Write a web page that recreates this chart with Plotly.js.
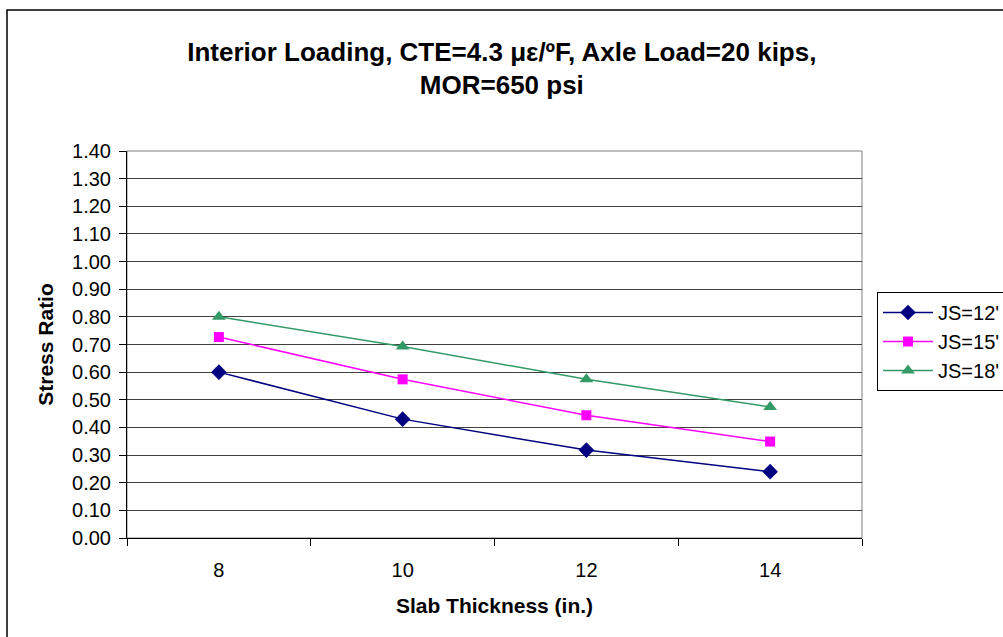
<!DOCTYPE html>
<html>
<head>
<meta charset="utf-8">
<script src="https://cdn.plot.ly/plotly-3.0.1.min.js"></script>
<style>html,body{margin:0;padding:0;background:#fff;}#chart{width:1003px;height:637px;}</style>
</head>
<body>
<div id="chart"></div>
<script>
const thickness = ["8", "10", "12", "14"];
const js12 = [0.60, 0.43, 0.318, 0.24];
const js15 = [0.727, 0.574, 0.444, 0.349];
const js18 = [0.80, 0.693, 0.574, 0.474];
const seriesNames = ["JS=12'", "JS=15'", "JS=18'"];

const font = "Liberation Sans, Arial, sans-serif";
const traces = [
  {x: thickness, y: js12, name: seriesNames[0], type: 'scatter', mode: 'lines+markers',
   line: {color: '#000080', width: 1.5}, marker: {symbol: 'diamond', size: 12, color: '#000080'}},
  {x: thickness, y: js15, name: seriesNames[1], type: 'scatter', mode: 'lines+markers',
   line: {color: '#FF00FF', width: 1.5}, marker: {symbol: 'square', size: 10, color: '#FF00FF'}},
  {x: thickness, y: js18, name: seriesNames[2], type: 'scatter', mode: 'lines+markers',
   line: {color: '#339966', width: 1.5}, marker: {symbol: 'triangle-up', size: 12, color: '#339966'}}
];

const L = 127, R = 862, T = 151, B = 538, W = 1003, H = 637;
const pw = R - L, ph = B - T;
const px = v => (v - L) / pw;
const py = v => (B - v) / ph;

const layout = {
  width: W, height: H,
  margin: {l: L, r: W - R, t: T, b: H - B, pad: 0, autoexpand: false},
  paper_bgcolor: '#fff', plot_bgcolor: '#fff',
  font: {family: font, size: 20, color: '#000'},
  title: {
    text: '<b>Interior Loading, CTE=4.3 με/ºF, Axle Load=20 kips,<br>MOR=650 psi</b>',
    font: {family: font, size: 26, color: '#000'},
    x: 0.51, xanchor: 'center', xref: 'paper', y: 0.905, yanchor: 'top'
  },
  xaxis: {
    type: 'category', range: [-0.5, 3.5], automargin: false,
    showgrid: false, zeroline: false,
    showline: true, linecolor: '#000', linewidth: 1,
    ticks: 'outside', tickson: 'boundaries', ticklen: 7, tickcolor: '#000', tickwidth: 1,
    ticklabelstandoff: 14,
    tickfont: {family: font, size: 20, color: '#000'},
    title: {text: '<b>Slab Thickness (in.)</b>', font: {family: font, size: 21, color: '#000'}, standoff: 18}
  },
  yaxis: {
    range: [0, 1.4], dtick: 0.1, tickformat: '.2f', automargin: false,
    showgrid: true, gridcolor: '#404040', gridwidth: 1, zeroline: false,
    showline: true, linecolor: '#000', linewidth: 1,
    ticks: 'outside', ticklen: 7, tickcolor: '#000',
    ticklabelstandoff: 4,
    tickfont: {family: font, size: 20, color: '#000'},
    title: {text: '<b>Stress Ratio</b>', font: {family: font, size: 21, color: '#000'}, standoff: 12}
  },
  showlegend: true,
  legend: {
    x: px(877), y: py(292), xanchor: 'left', yanchor: 'top',
    bordercolor: '#000', borderwidth: 1, bgcolor: '#fff',
    font: {family: font, size: 20, color: '#000'},
    tracegroupgap: 0, itemwidth: 50
  },
  shapes: [
    {type: 'rect', xref: 'paper', yref: 'paper', x0: 0, x1: 1, y0: 0, y1: 1,
     line: {color: '#808080', width: 1}, layer: 'below'},
    {type: 'rect', xref: 'paper', yref: 'paper', x0: px(7), x1: px(1010), y0: py(645), y1: py(10),
     line: {color: '#000', width: 1.5}, fillcolor: 'rgba(0,0,0,0)'}
  ]
};

Plotly.newPlot('chart', traces, layout, {displayModeBar: false, staticPlot: true});
</script>
</body>
</html>
